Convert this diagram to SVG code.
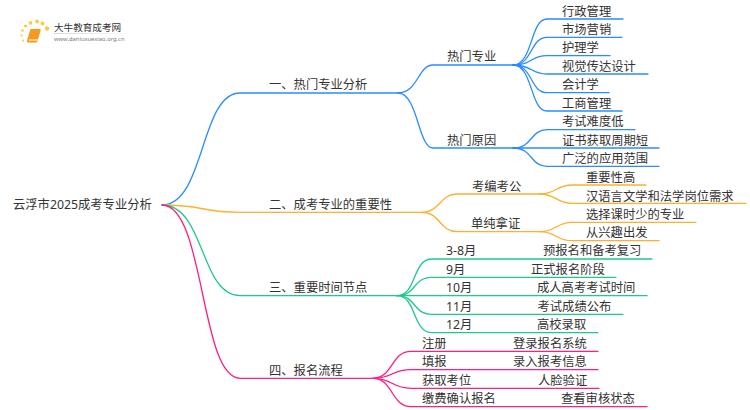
<svg xmlns="http://www.w3.org/2000/svg" width="750" height="410" viewBox="0 0 750 410">
<style>
text{font-family:"Noto Sans","Noto Sans CJK SC",sans-serif;font-size:12.3px;fill:#333}
#connectors path{fill:none;stroke-width:1.3;stroke-linecap:round}
.b path{stroke:#2a8cff}.o path{stroke:#fdb02f}.g path{stroke:#1fc988}.p path{stroke:#ff1f7f}
</style>
<defs><linearGradient id="fade"><stop offset="0" stop-color="#ccc"/><stop offset="1" stop-color="#fff"/></linearGradient></defs>
<rect width="750" height="410" fill="#fff"/>
<g id="logo">
<g fill="#fbc94f"><circle cx="25.5" cy="26" r="1.6"/><circle cx="30.5" cy="22.8" r="1.9"/><circle cx="37" cy="21.5" r="2"/><circle cx="42.5" cy="23.5" r="2"/><circle cx="47" cy="28.5" r="2.2"/><circle cx="22.5" cy="30.5" r="1.3"/><circle cx="21.5" cy="35.5" r="1.1"/><circle cx="23" cy="40.5" r="1"/></g>
<path d="M30.5 29H40Q41 29 40.7 30L37.5 41.2Q37.2 42.5 36 42.5H28.5Q26.5 42.5 27 40.5Z" fill="#f59a1c"/><path d="M29 39.2H38.2L37.6 40.8H28.8Q28.2 40 29 39.2Z" fill="#fde0a8"/>
<text x="54" y="31" style="font-size:9.6px">大牛教育成考网</text>
<rect x="54" y="33" width="80" height="0.8" fill="url(#fade)"/>
<text x="54" y="41" style="font-size:5.8px;fill:#777">www.daniuxuexiao.org.cn</text>
</g>
<g id="connectors">
<g class="b">
<path d="M162 205C205 205 200 93 240 93H398"/>
<path d="M398 93C418 93 418 65 433 65H513"/>
<path d="M398 93C418 93 418 148 433 148H513"/>
<path d="M513 65C533 65 530 19 547 19H623"/>
<path d="M513 65C533 65 530 37.3 547 37.3H622"/>
<path d="M513 65C533 65 530 55.7 547 55.7H610"/>
<path d="M513 65C533 65 530 74 547 74H648"/>
<path d="M513 65C533 65 530 92.7 547 92.7H609"/>
<path d="M513 65C533 65 530 111 547 111H622"/>
<path d="M513 148C533 148 530 129.7 547 129.7H635"/>
<path d="M513 148H659"/>
<path d="M513 148C533 148 530 166.3 547 166.3H659"/>
</g>
<g class="o">
<path d="M162 205C205 205 200 212.3 240 212.3H422"/>
<path d="M422 212.3C440 212.3 440 194 457 194H540"/>
<path d="M422 212.3C440 212.3 440 231.7 457 231.7H540"/>
<path d="M540 194C556 194 556 185 572 185H646"/>
<path d="M540 194C556 194 556 203.3 572 203.3H746"/>
<path d="M540 231.7C556 231.7 556 222.3 572 222.3H696"/>
<path d="M540 231.7C556 231.7 556 240.7 572 240.7H659"/>
</g>
<g class="g">
<path d="M162 205C205 205 200 295.7 240 295.7H397"/>
<path d="M397 295.7C417 295.7 412 259 432 259H652"/>
<path d="M397 295.7C417 295.7 412 277.3 432 277.3H616"/>
<path d="M397 295.7H647"/>
<path d="M397 295.7C417 295.7 412 314.3 432 314.3H623"/>
<path d="M397 295.7C417 295.7 412 332.7 432 332.7H598"/>
</g>
<g class="p">
<path d="M162 205C205 205 200 378.3 240 378.3H373"/>
<path d="M373 378.3C393 378.3 391 351.3 411 351.3H598"/>
<path d="M373 378.3C393 378.3 391 369.7 411 369.7H598"/>
<path d="M373 378.3C393 378.3 391 388.3 411 388.3H599"/>
<path d="M373 378.3C393 378.3 391 406.7 411 406.7H647"/>
</g>
</g>
<g id="root"><text x="13" y="209">云浮市2025成考专业分析</text></g>
<g id="n1"><text x="269" y="89">一、热门专业分析</text></g>
<g id="n1-1"><text x="447" y="61">热门专业</text></g>
<g id="n1-1-1"><text x="562" y="16">行政管理</text></g>
<g id="n1-1-2"><text x="562" y="34">市场营销</text></g>
<g id="n1-1-3"><text x="562" y="52">护理学</text></g>
<g id="n1-1-4"><text x="562" y="71">视觉传达设计</text></g>
<g id="n1-1-5"><text x="562" y="89">会计学</text></g>
<g id="n1-1-6"><text x="562" y="108">工商管理</text></g>
<g id="n1-2"><text x="447" y="145">热门原因</text></g>
<g id="n1-2-1"><text x="562" y="126">考试难度低</text></g>
<g id="n1-2-2"><text x="562" y="145">证书获取周期短</text></g>
<g id="n1-2-3"><text x="562" y="163">广泛的应用范围</text></g>
<g id="n2"><text x="269" y="209">二、成考专业的重要性</text></g>
<g id="n2-1"><text x="472" y="191">考编考公</text></g>
<g id="n2-1-1"><text x="586" y="182">重要性高</text></g>
<g id="n2-1-2"><text x="586" y="200.5">汉语言文学和法学岗位需求</text></g>
<g id="n2-2"><text x="471" y="228">单纯拿证</text></g>
<g id="n2-2-1"><text x="586" y="218.5">选择课时少的专业</text></g>
<g id="n2-2-2"><text x="586" y="237">从兴趣出发</text></g>
<g id="n3"><text x="269" y="292">三、重要时间节点</text></g>
<g id="n3-1"><text x="446" y="255">3-8月</text><text x="543" y="255">预报名和备考复习</text></g>
<g id="n3-2"><text x="446" y="274">9月</text><text x="531" y="274">正式报名阶段</text></g>
<g id="n3-3"><text x="446" y="292">10月</text><text x="537" y="292">成人高考考试时间</text></g>
<g id="n3-4"><text x="446" y="310.5">11月</text><text x="537.5" y="310.5">考试成绩公布</text></g>
<g id="n3-5"><text x="446" y="329">12月</text><text x="537" y="329">高校录取</text></g>
<g id="n4"><text x="269" y="375">四、报名流程</text></g>
<g id="n4-1"><text x="422" y="348">注册</text><text x="513" y="348">登录报名系统</text></g>
<g id="n4-2"><text x="422" y="366">填报</text><text x="513" y="366">录入报考信息</text></g>
<g id="n4-3"><text x="422" y="385">获取考位</text><text x="538" y="385">人脸验证</text></g>
<g id="n4-4"><text x="422" y="403">缴费确认报名</text><text x="561" y="403">查看审核状态</text></g>
</svg>
